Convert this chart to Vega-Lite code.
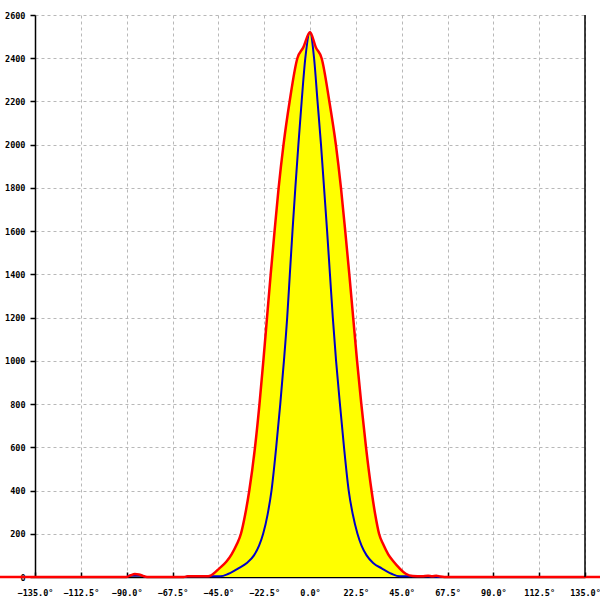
{
  "$schema": "https://vega.github.io/schema/vega-lite/v6.json",
  "width": 550,
  "height": 562,
  "autosize": {"type": "none"},
  "padding": {"left": 35, "top": 15, "right": 15, "bottom": 23},
  "background": "white",
  "config": {
    "view": {"stroke": null},
    "axis": {
      "labelFont": "DejaVu Sans Mono",
      "labelFontSize": 8.5,
      "labelFontWeight": "bold",
      "labelColor": "#000000",
      "domainColor": "#000000",
      "domainWidth": 1.5,
      "tickColor": "#000000",
      "tickWidth": 1.5,
      "gridColor": "#b8b8b8",
      "gridDash": [3, 3],
      "gridWidth": 1,
      "title": null
    }
  },
  "datasets": {
    "red": [
      {"angle": -180, "value": 0},
      {"angle": -90, "value": 0},
      {"angle": -88, "value": 8},
      {"angle": -86, "value": 14},
      {"angle": -84, "value": 12},
      {"angle": -82, "value": 5},
      {"angle": -80, "value": 0},
      {"angle": -62, "value": 0},
      {"angle": -60, "value": 4},
      {"angle": -50, "value": 4},
      {"angle": -48.5, "value": 8},
      {"angle": -44.5, "value": 40},
      {"angle": -41, "value": 72},
      {"angle": -38.5, "value": 105},
      {"angle": -36, "value": 150},
      {"angle": -33.9, "value": 200},
      {"angle": -31.8, "value": 290},
      {"angle": -29.8, "value": 400},
      {"angle": -27, "value": 600},
      {"angle": -24.8, "value": 800},
      {"angle": -22.9, "value": 1000},
      {"angle": -21.1, "value": 1200},
      {"angle": -19.3, "value": 1400},
      {"angle": -17.4, "value": 1600},
      {"angle": -15.4, "value": 1800},
      {"angle": -13.0, "value": 2000},
      {"angle": -10.0, "value": 2200},
      {"angle": -6.2, "value": 2400},
      {"angle": -3.3, "value": 2450},
      {"angle": 0, "value": 2520},
      {"angle": 2.9, "value": 2450},
      {"angle": 5.7, "value": 2400},
      {"angle": 9.5, "value": 2200},
      {"angle": 12.7, "value": 2000},
      {"angle": 15.2, "value": 1800},
      {"angle": 17.3, "value": 1600},
      {"angle": 19.3, "value": 1400},
      {"angle": 21.2, "value": 1200},
      {"angle": 23.1, "value": 1000},
      {"angle": 25.2, "value": 800},
      {"angle": 27.5, "value": 600},
      {"angle": 30.2, "value": 400},
      {"angle": 32.0, "value": 290},
      {"angle": 33.9, "value": 200},
      {"angle": 36, "value": 150},
      {"angle": 38.4, "value": 105},
      {"angle": 41, "value": 72},
      {"angle": 44, "value": 40},
      {"angle": 47, "value": 15},
      {"angle": 50.5, "value": 5},
      {"angle": 55, "value": 4},
      {"angle": 58, "value": 6},
      {"angle": 60, "value": 3},
      {"angle": 62, "value": 6},
      {"angle": 64, "value": 2},
      {"angle": 66, "value": 0},
      {"angle": 180, "value": 0}
    ],
    "blue": [
      {"angle": -180, "value": 0},
      {"angle": -90, "value": 0},
      {"angle": -89, "value": 6},
      {"angle": -82, "value": 6},
      {"angle": -81, "value": 0},
      {"angle": -61, "value": 0},
      {"angle": -60, "value": 4},
      {"angle": -50, "value": 4},
      {"angle": -44, "value": 3},
      {"angle": -40, "value": 15},
      {"angle": -35.2, "value": 40},
      {"angle": -31, "value": 65},
      {"angle": -27.5, "value": 100},
      {"angle": -25, "value": 145},
      {"angle": -23, "value": 200},
      {"angle": -20.8, "value": 290},
      {"angle": -18.9, "value": 400},
      {"angle": -16.6, "value": 600},
      {"angle": -14.6, "value": 800},
      {"angle": -12.8, "value": 1000},
      {"angle": -11.2, "value": 1200},
      {"angle": -9.9, "value": 1400},
      {"angle": -8.6, "value": 1600},
      {"angle": -7.2, "value": 1800},
      {"angle": -5.7, "value": 2000},
      {"angle": -4.1, "value": 2200},
      {"angle": -2.3, "value": 2400},
      {"angle": 0, "value": 2520},
      {"angle": 2.0, "value": 2400},
      {"angle": 3.7, "value": 2200},
      {"angle": 5.4, "value": 2000},
      {"angle": 6.9, "value": 1800},
      {"angle": 8.4, "value": 1600},
      {"angle": 9.8, "value": 1400},
      {"angle": 11.2, "value": 1200},
      {"angle": 12.8, "value": 1000},
      {"angle": 14.7, "value": 800},
      {"angle": 16.7, "value": 600},
      {"angle": 19, "value": 400},
      {"angle": 21.0, "value": 290},
      {"angle": 23.3, "value": 200},
      {"angle": 25.3, "value": 145},
      {"angle": 27.8, "value": 100},
      {"angle": 31, "value": 65},
      {"angle": 35.2, "value": 40},
      {"angle": 40, "value": 15},
      {"angle": 44, "value": 3},
      {"angle": 50, "value": 3},
      {"angle": 55, "value": 3},
      {"angle": 60, "value": 2},
      {"angle": 66, "value": 0},
      {"angle": 180, "value": 0}
    ]
  },
  "encoding": {
    "x": {
      "field": "angle",
      "type": "quantitative",
      "scale": {"domain": [-135, 135], "nice": false, "zero": false},
      "axis": {
        "values": [-135, -112.5, -90, -67.5, -45, -22.5, 0, 22.5, 45, 67.5, 90, 112.5, 135],
        "labelExpr": "format(datum.value, '.1f') + '°'",
        "tickSize": -5,
        "labelPadding": 16,
        "labelFlush": false,
        "labelOverlap": false
      }
    },
    "y": {
      "field": "value",
      "type": "quantitative",
      "scale": {"domain": [0, 2600], "nice": false},
      "axis": {
        "values": [0, 200, 400, 600, 800, 1000, 1200, 1400, 1600, 1800, 2000, 2200, 2400, 2600],
        "format": "d",
        "tickSize": 5,
        "labelPadding": 5,
        "labelOverlap": false,
        "labelFlush": false
      }
    }
  },
  "layer": [
    {
      "data": {"name": "red"},
      "mark": {"type": "area", "color": "#ffff00", "clip": true, "interpolate": "monotone"}
    },
    {
      "data": {"name": "blue"},
      "mark": {"type": "line", "color": "#0000c8", "strokeWidth": 2, "interpolate": "monotone"}
    },
    {
      "data": {"name": "red"},
      "mark": {"type": "line", "color": "#ff0000", "strokeWidth": 2.5, "clip": false, "interpolate": "monotone"}
    },
    {
      "data": {"values": [{"edge": 135}]},
      "mark": {"type": "rule", "color": "#000000", "strokeWidth": 1.5},
      "encoding": {"x": {"field": "edge", "type": "quantitative"}, "y": {"value": 0}, "y2": {"value": 562}}
    }
  ]
}
